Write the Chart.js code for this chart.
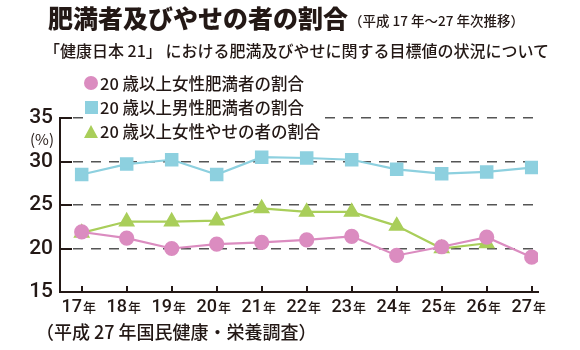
<!DOCTYPE html>
<html>
<head>
<meta charset="utf-8">
<script src="https://cdn.jsdelivr.net/npm/chart.js@4"></script>
<style>
  body { margin: 0; background: #fff; }
  #wrap { position: relative; width: 580px; height: 350px; overflow: hidden; }
  #wrap canvas { position: absolute; left: 0; top: 0; }
  .txt { position: absolute; white-space: nowrap; line-height: 1; color: #231815;
         font-family: "Noto Sans CJK JP", sans-serif; }
  #title { left: 48px; top: 5px; font-size: 25px; font-weight: 900; }
  #sub { left: 349px; top: 14px; font-size: 13.5px; font-weight: 500; }
  #lead { left: 44px; top: 42px; font-size: 16px; font-weight: 500; }
  #src { left: 36px; top: 322px; font-size: 18px; font-weight: 500; }
  #unit { left: 30px; top: 131px; font-size: 15px; }
  #legend { position: absolute; left: 84px; top: 72px; width: 241px; height: 70px; background: #fff; }
  .item { position: absolute; left: 0; height: 16px; white-space: nowrap; font-size: 16.5px; line-height: 16px;
          font-family: "Noto Sans CJK JP", sans-serif; color: #231815; font-weight: 500; }
  .mk { position: absolute; }
  .item span.t { position: absolute; left: 16px; top: 0; }
</style>
</head>
<body>
<div id="wrap">
  <canvas id="myChart" width="580" height="350"></canvas>
  <div class="txt" id="title">肥満者及びやせの者の割合</div>
  <div class="txt" id="sub">（平成 17 年～27 年次推移）</div>
  <div class="txt" id="lead">「健康日本 21」 における肥満及びやせに関する目標値の状況について</div>
  <div class="txt" id="unit">(%)</div>
  <div id="legend"></div>
  <div class="txt" id="src">（平成 27 年国民健康・栄養調査）</div>
</div>
<script>
var years = [17, 18, 19, 20, 21, 22, 23, 24, 25, 26, 27];
var femaleObese = [21.9, 21.2, 20.0, 20.5, 20.7, 21.0, 21.4, 19.2, 20.2, 21.3, 19.0];
var maleObese = [28.5, 29.7, 30.2, 28.5, 30.5, 30.4, 30.2, 29.1, 28.6, 28.8, 29.3];
var femaleThin = [21.8, 23.1, 23.1, 23.2, 24.6, 24.2, 24.2, 22.6, 20.0, 20.6, null];
var seriesNames = ['20 歳以上女性肥満者の割合', '20 歳以上男性肥満者の割合', '20 歳以上女性やせの者の割合'];
var yTicks = [15, 20, 25, 30, 35];
var yearSuffix = '年';

var pink = '#db8cc0';
var blue = '#8dd0df';
var green = '#a9ce5a';
var ink = '#231815';

function points(vals) {
    return years.map(function (yr, i) { return { x: yr, y: vals[i] }; });
}

// inward ticks + x labels with a smaller 年
var axisDecor = {
    id: 'axisDecor',
    afterDraw: function (chart) {
        var c = chart.ctx, xs = chart.scales.x, ys = chart.scales.y, a = chart.chartArea;
        c.save();
        c.strokeStyle = ink;
        c.lineWidth = 2;
        yTicks.forEach(function (v) {
            if (v === yTicks[0]) return;
            var py = Math.round(ys.getPixelForValue(v));
            c.beginPath(); c.moveTo(a.left, py); c.lineTo(a.left + 12, py); c.stroke();
        });
        years.forEach(function (yr) {
            var px = Math.round(xs.getPixelForValue(yr));
            c.beginPath(); c.moveTo(px, a.bottom); c.lineTo(px, a.bottom - 6); c.stroke();
        });
        c.fillStyle = ink;
        c.textBaseline = 'alphabetic';
        c.textAlign = 'left';
        var numFont = '500 18px Roboto, sans-serif';
        var sufFont = '500 13px "Noto Sans CJK JP", sans-serif';
        years.forEach(function (yr) {
            var px = xs.getPixelForValue(yr);
            c.font = numFont;
            var n = String(yr), wn = c.measureText(n).width;
            c.font = sufFont;
            var ws = c.measureText(yearSuffix).width;
            var x0 = px - 3 - (wn + 1 + ws) / 2;
            c.font = numFont;
            c.fillText(n, x0, a.bottom + 20);
            c.font = sufFont;
            c.fillText(yearSuffix, x0 + wn + 1, a.bottom + 19.5);
        });
        c.restore();
    }
};

var ctx = document.getElementById('myChart').getContext('2d');
var myChart = new Chart(ctx, {
    type: 'line',
    data: {
        datasets: [{
            label: seriesNames[0],
            data: points(femaleObese),
            borderColor: pink,
            backgroundColor: pink,
            pointStyle: 'circle',
            pointRadius: 6.5,
            borderWidth: 2.2
        }, {
            label: seriesNames[1],
            data: points(maleObese),
            borderColor: blue,
            backgroundColor: blue,
            pointStyle: 'rect',
            pointRadius: 8,
            borderWidth: 2.2
        }, {
            label: seriesNames[2],
            data: points(femaleThin),
            borderColor: green,
            backgroundColor: green,
            pointStyle: 'triangle',
            pointRadius: 7.5,
            borderWidth: 2.2
        }]
    },
    options: {
        responsive: false,
        animation: false,
        layout: { padding: { top: 118, right: 42, bottom: 58, left: 0 } },
        plugins: {
            legend: { display: false },
            title: { display: false },
            tooltip: { enabled: false }
        },
        elements: {
            line: { tension: 0 },
            point: { borderWidth: 0, hoverRadius: 6 }
        },
        scales: {
            x: {
                type: 'linear',
                min: 16.518,
                max: 27.14,
                ticks: { display: false, stepSize: 1, includeBounds: false },
                grid: { display: false, drawTicks: false },
                border: { color: ink, width: 2 },
                afterFit: function (s) { s.height = 0; }
            },
            y: {
                min: yTicks[0],
                max: yTicks[yTicks.length - 1],
                afterBuildTicks: function (s) { s.ticks = yTicks.map(function (v) { return { value: v }; }); },
                ticks: {
                    padding: 7,
                    color: ink,
                    font: { family: 'Roboto', size: 21, weight: '500' }
                },
                grid: { color: '#555', lineWidth: 1.5, drawTicks: false },
                border: { color: ink, width: 2, dash: [10, 8], dashOffset: -12 },
                afterFit: function (s) { s.width = 60; }
            }
        }
    },
    plugins: [axisDecor]
});

// legend built from the chart's datasets
var lg = document.getElementById('legend');
myChart.data.datasets.forEach(function (ds, i) {
    var it = document.createElement('div');
    it.className = 'item';
    it.style.top = (3 + i * 24) + 'px';
    var mk = document.createElement('div');
    mk.className = 'mk';
    if (ds.pointStyle === 'circle') {
        mk.style.cssText = 'left:0;top:1px;width:14px;height:14px;border-radius:50%;background:' + ds.backgroundColor;
    } else if (ds.pointStyle === 'rect') {
        mk.style.cssText = 'left:1px;top:2px;width:13px;height:13px;background:' + ds.backgroundColor;
    } else {
        mk.style.cssText = 'left:0;top:2px;width:0;height:0;border-left:7px solid transparent;border-right:7px solid transparent;border-bottom:13px solid ' + ds.backgroundColor;
    }
    var t = document.createElement('span');
    t.className = 't';
    t.textContent = ds.label;
    it.appendChild(mk);
    it.appendChild(t);
    lg.appendChild(it);
});
</script>
</body>
</html>
